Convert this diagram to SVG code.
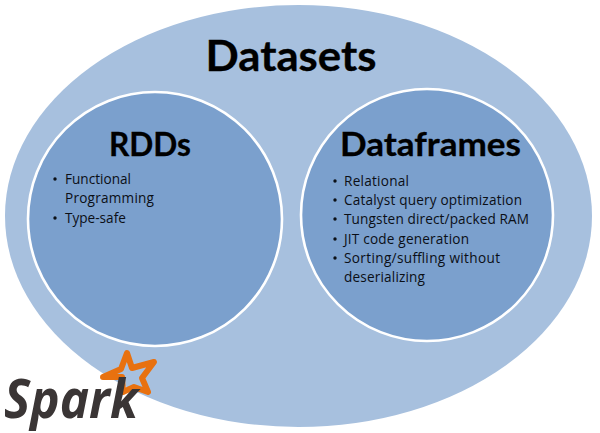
<svg xmlns="http://www.w3.org/2000/svg" width="600" height="433" viewBox="0 0 600 433">
<style>
.t{font-family:"Open Sans",sans-serif;fill:#000}
.h{font-family:"Lato","Open Sans",sans-serif;font-weight:700;text-anchor:middle;stroke:#000;stroke-width:.3}
.b{font-size:13.6px;fill:#0b0f16}
.d{fill:#0b0f16}
.c{fill:#7ba0cd;stroke:#fff;stroke-width:2.6}
</style>
<rect width="600" height="433" fill="#fff"/>
<g id="datasets">
<ellipse cx="298.5" cy="216" rx="293.5" ry="211" fill="#a7c0de"/>
<text class="t h" x="291" y="71" font-size="42" textLength="171" lengthAdjust="spacingAndGlyphs">Datasets</text>
</g>
<g id="rdds">
<circle class="c" cx="155" cy="219" r="127"/>
<text class="t h" x="150" y="156" font-size="32" textLength="82" lengthAdjust="spacingAndGlyphs">RDDs</text>
<g class="t b">
<circle class="d" cx="55" cy="179" r="1.7"/><text x="65" y="184">Functional</text>
<text x="65" y="203" textLength="89">Programming</text>
<circle class="d" cx="55" cy="218" r="1.7"/><text x="65" y="223">Type-safe</text>
</g>
</g>
<g id="dataframes">
<circle class="c" cx="427" cy="215" r="126"/>
<text class="t h" x="430.5" y="156" font-size="32" textLength="181" lengthAdjust="spacingAndGlyphs">Dataframes</text>
<g class="t b">
<circle class="d" cx="335" cy="181" r="1.7"/><text x="344" y="186" textLength="65">Relational</text>
<circle class="d" cx="335" cy="200" r="1.7"/><text x="344" y="205" textLength="178">Catalyst query optimization</text>
<circle class="d" cx="335" cy="219" r="1.7"/><text x="344" y="224" textLength="185">Tungsten direct/packed RAM</text>
<circle class="d" cx="335" cy="239" r="1.7"/><text x="344" y="244" textLength="125">JIT code generation</text>
<circle class="d" cx="335" cy="258" r="1.7"/><text x="344" y="263" textLength="156">Sorting/suffling without</text>
<text x="344" y="282" textLength="81">deserializing</text>
</g>
</g>
<g id="spark">
<path d="M127 353 L132 368 L154 362 L142 378 L148 392 L134 387 L123 392 L122 377 L103 377 L121 369 Z" fill="none" stroke="#e8710f" stroke-width="6" stroke-linejoin="round"/>
<text x="4" y="418" font-family="Open Sans,sans-serif" font-style="italic" font-weight="700" font-size="53" fill="#3a3535" textLength="134" lengthAdjust="spacingAndGlyphs">Spark</text>
</g>
</svg>
